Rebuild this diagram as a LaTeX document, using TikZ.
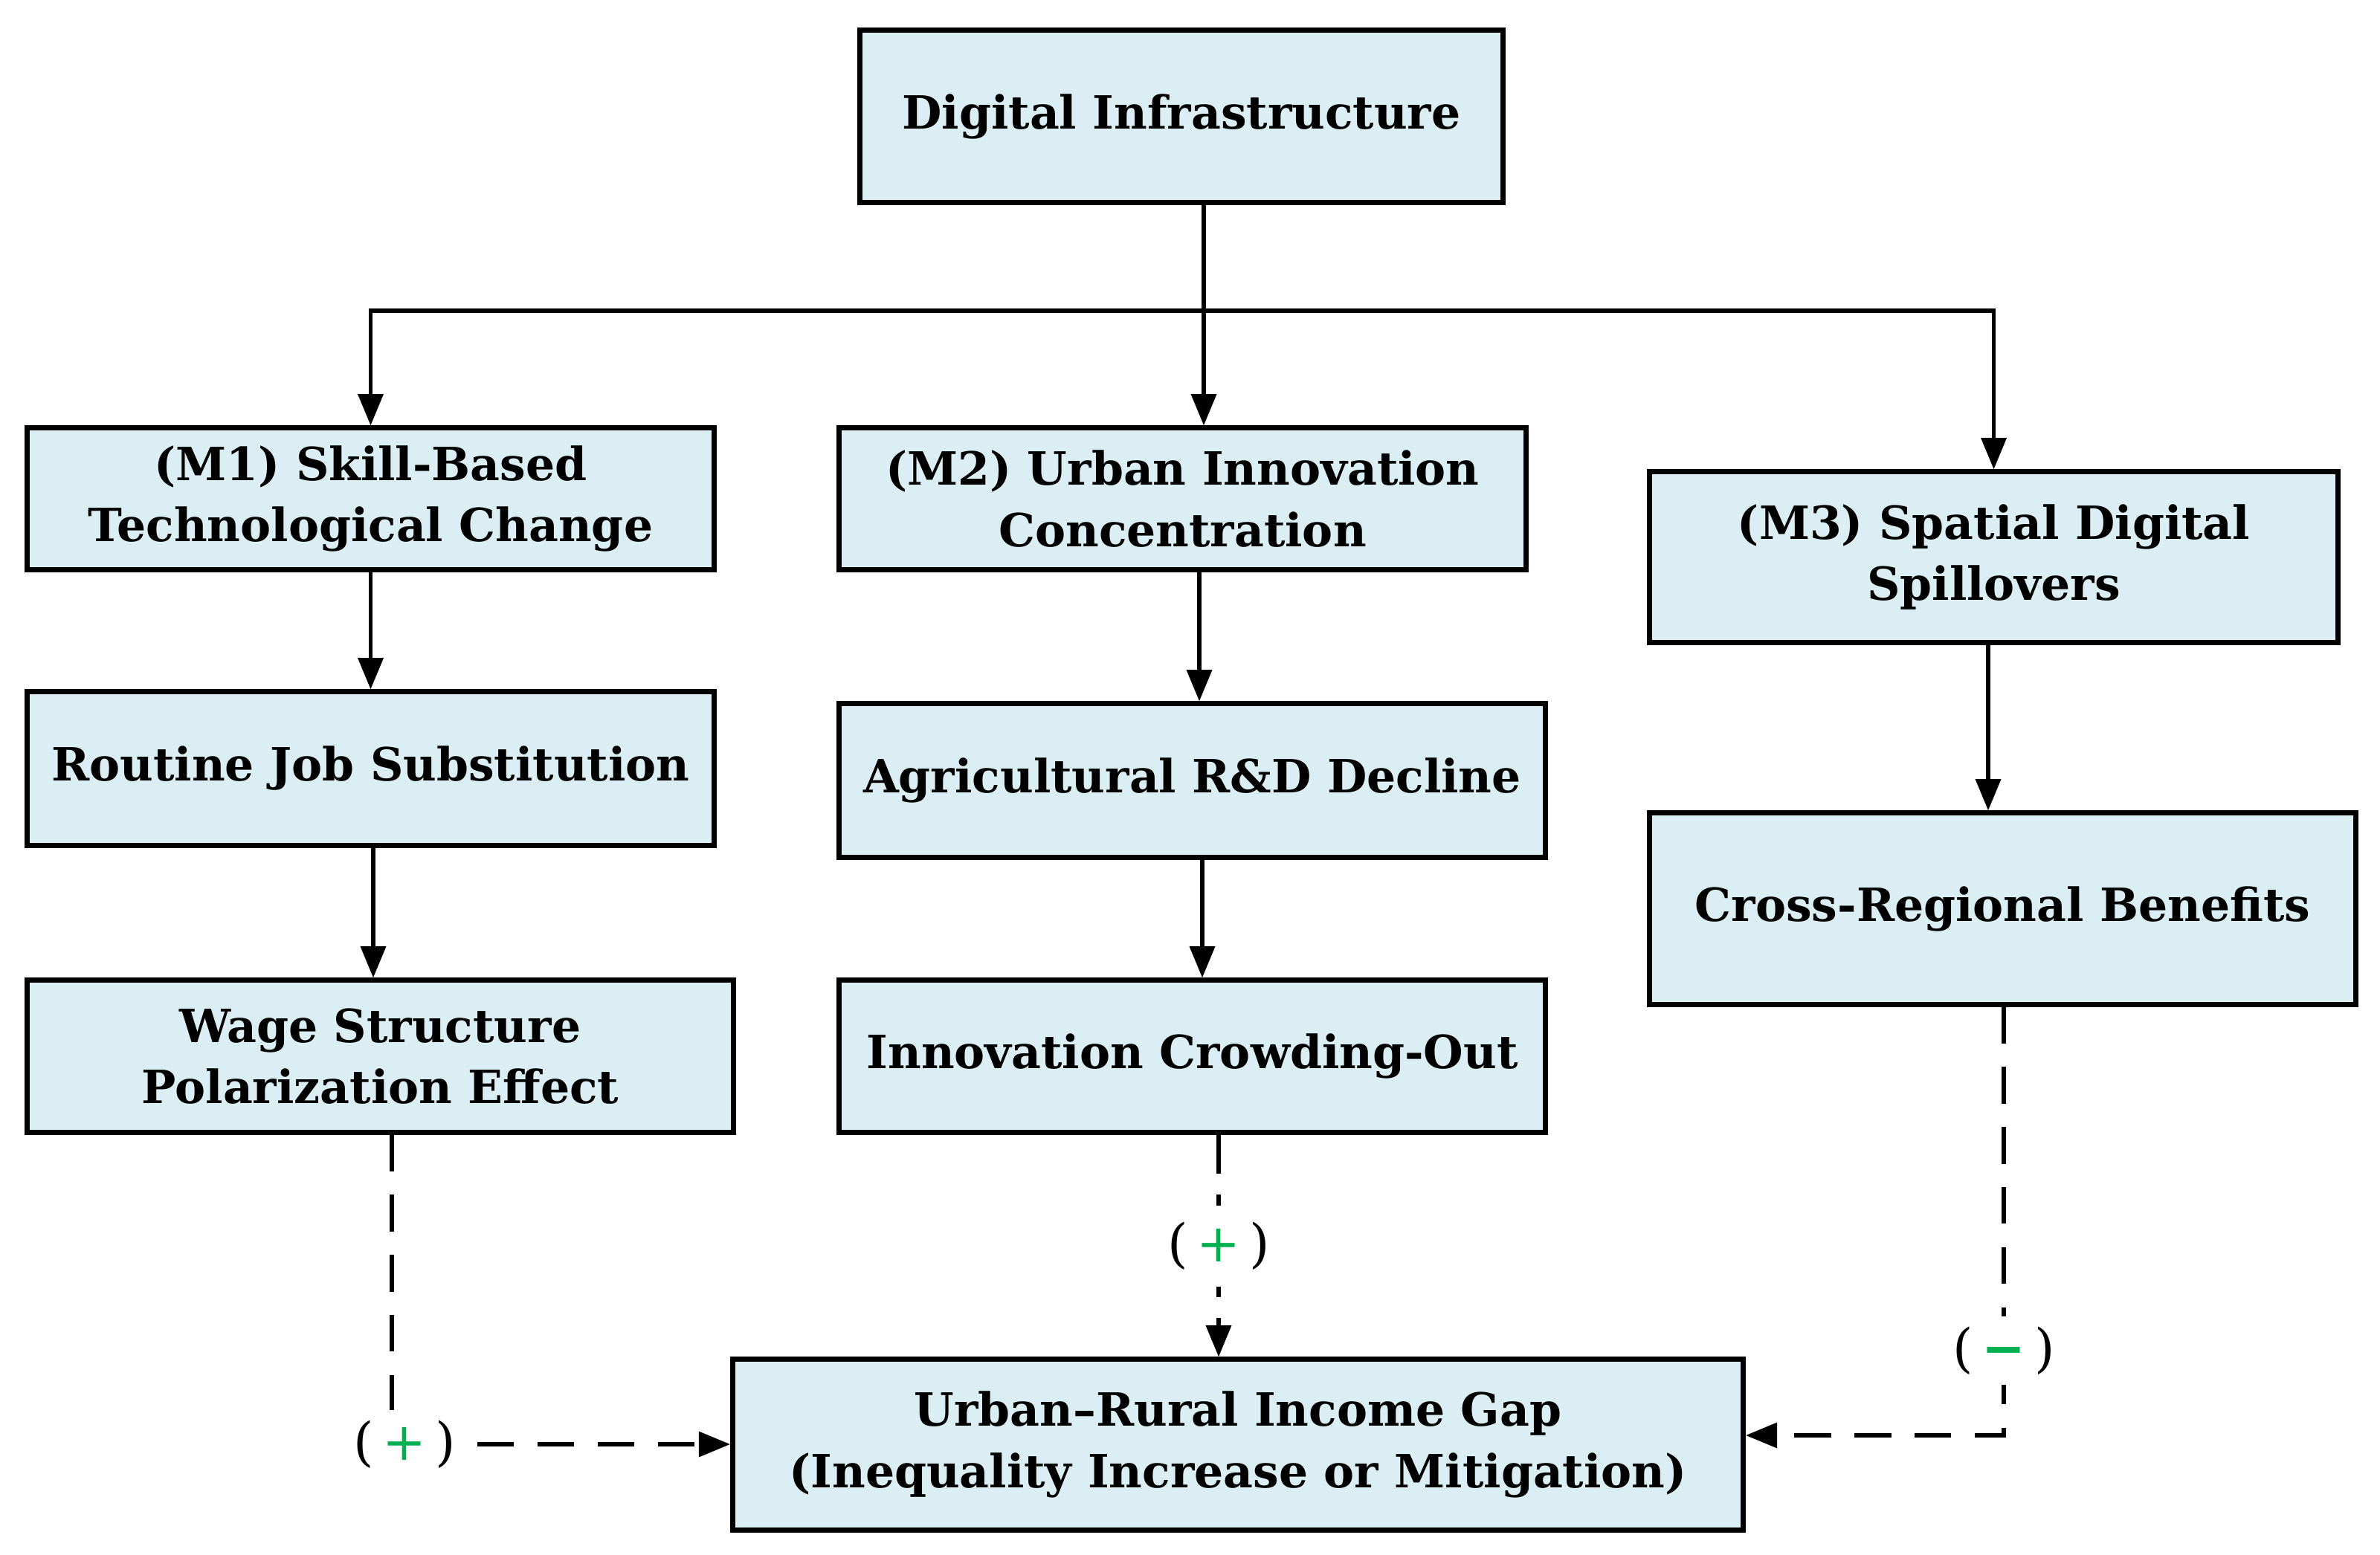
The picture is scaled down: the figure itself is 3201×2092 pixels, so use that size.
\documentclass[tikz,border=0pt]{standalone}
\usepackage{fontspec}
\setmainfont{DejaVu Serif}
\usetikzlibrary{arrows.meta}
\definecolor{boxfill}{HTML}{DAEEF3}
\definecolor{pgreen}{HTML}{00B050}
\tikzset{
  box/.style={draw=black, line width=2pt, fill=boxfill, align=center, inner sep=2pt,
    font=\fontsize{17.5}{23.5}\selectfont\bfseries},
  tip/.style={-{Triangle[length=12pt,width=9.5pt]}},
  arr/.style={line width=1.5pt, tip},
  plain/.style={line width=1.5pt},
  dasharr/.style={line width=1.5pt, dash pattern=on 14pt off 9pt, tip},
  dotarr/.style={line width=1.5pt, dash pattern=on 15pt off 8pt on 4pt off 8pt, tip},
  sign/.style={fill=white, inner sep=4pt, font=\fontsize{20}{22}\selectfont}
}
\begin{document}
\begin{tikzpicture}[x=0.01cm,y=-0.01cm]
\useasboundingbox (0,0) rectangle (3201,2092);
% boxes
\node[box, minimum width=8.64cm, minimum height=2.31cm] (top) at (1589,156.5) {Digital Infrastructure};
\node[box, minimum width=9.23cm, minimum height=1.90cm] (m1) at (498.5,671) {(M1) Skill-Based\\Technological Change};
\node[box, minimum width=9.23cm, minimum height=1.90cm] (m2) at (1590.5,671) {(M2) Urban Innovation\\Concentration};
\node[box, minimum width=9.25cm, minimum height=2.29cm] (m3) at (2681.5,749.5) {(M3) Spatial Digital\\Spillovers};
\node[box, minimum width=9.23cm, minimum height=2.06cm] (rout) at (498.5,1034) {Routine Job Substitution};
\node[box, minimum width=9.49cm, minimum height=2.06cm] (agri) at (1603.5,1050) {Agricultural R\&D Decline};
\node[box, minimum width=9.49cm, minimum height=2.57cm] (cross) at (2693.5,1222.5) {Cross-Regional Benefits};
\node[box, minimum width=9.49cm, minimum height=2.04cm] (wage) at (511.5,1421) {Wage Structure\\Polarization Effect};
\node[box, minimum width=9.49cm, minimum height=2.04cm] (crowd) at (1603.5,1421) {Innovation Crowding-Out};
\node[box, minimum width=13.58cm, minimum height=2.29cm] (gap) at (1665,1943.5) {Urban–Rural Income Gap\\(Inequality Increase or Mitigation)};
% helper coordinates
\coordinate (j) at (1619,418);
\coordinate (xa) at (502,0);
\coordinate (xb) at (1613,0);
\coordinate (xc) at (1617,0);
\coordinate (xd) at (2674,0);
\coordinate (xe) at (1639,0);
\coordinate (c1) at (527,1943);
\coordinate (c3) at (2695,1931);
\coordinate (h1) at (642,1943);
% solid connectors
\draw[plain] (top.south -| j) -- (j);
\draw[arr] (j) -| (m1.north);
\draw[arr] (j) -- (m2.north -| j);
\draw[arr] (j) -| (m3.north);
\draw[arr] (m1.south) -- (rout.north);
\draw[arr] (rout.south -| xa) -- (wage.north -| xa);
\draw[arr] (m2.south -| xb) -- (agri.north -| xb);
\draw[arr] (agri.south -| xc) -- (crowd.north -| xc);
\draw[arr] (m3.south -| xd) -- (cross.north -| xd);
% dashed connectors
\draw[plain, dash pattern=on 14pt off 9pt] (wage.south -| c1) -- (c1);
\draw[dasharr] (h1) -- (gap.west |- h1);
\draw[dotarr] (crowd.south -| xe) -- (gap.north -| xe);
\draw[dasharr] (cross.south -| c3) -- (c3) -- (gap.east |- c3);
% signs
\node[sign] (s1) at (544,1943) {(\,{\color{pgreen}+}\,)};
\node[sign] (s2) at (1639,1676) {(\,{\color{pgreen}+}\,)};
\node[sign] (s3) at (2695,1817) {(\,{\color{pgreen}\bfseries −}\,)};
\end{tikzpicture}
\end{document}
